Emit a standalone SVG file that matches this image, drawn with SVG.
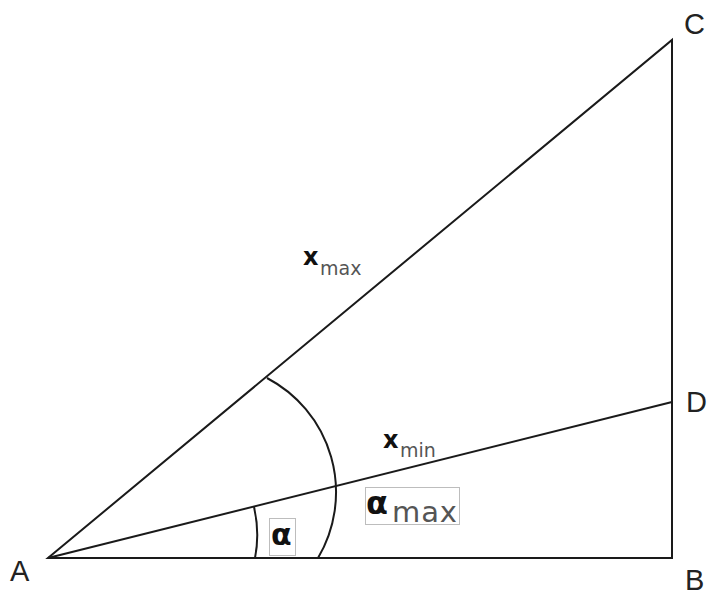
<svg xmlns="http://www.w3.org/2000/svg" width="708" height="595" viewBox="0 0 708 595">
<style>
.ln{fill:none;stroke:#1a1a1a;stroke-width:2;stroke-linejoin:miter}
.lbl{font-family:"Liberation Sans",Arial,sans-serif;font-size:29px;fill:#222}
.var{font-family:"DejaVu Sans",Verdana,sans-serif;font-weight:bold;fill:#111}
.sub{font-family:"DejaVu Sans",Verdana,sans-serif;fill:#555}
.box{fill:none;stroke:#bdbdbd;stroke-width:1}
</style>
<rect width="708" height="595" fill="#fff"/>
<g id="connectors">
<path class="ln" d="M48,558 L672,558 L672,40 Z"/>
<path class="ln" d="M48,558 L672,402"/>
<path class="ln" d="M267,378 A129,129 0 0 1 318,558"/>
<path class="ln" d="M254,507 Q260,533 255,558"/>
</g>
<g id="A"><text class="lbl" x="10" y="581">A</text></g>
<g id="B"><text class="lbl" x="685" y="590" font-size="28">B</text></g>
<g id="C"><text class="lbl" x="684" y="34">C</text></g>
<g id="D"><text class="lbl" x="686" y="412">D</text></g>
<g id="xmax"><text class="var" font-size="24" x="303" y="265">x</text><text class="sub" font-size="19" x="320" y="275">max</text></g>
<g id="xmin"><text class="var" font-size="24" x="383" y="448">x</text><text class="sub" font-size="19" x="400" y="457">min</text></g>
<g id="alphamax"><rect class="box" x="365.5" y="487.5" width="94" height="37"/><text class="var" font-size="32" font-weight="600" x="366" y="514">α</text><text class="sub" font-size="29" x="392" y="522" textLength="65" lengthAdjust="spacing">max</text></g>
<g id="alpha"><rect class="box" x="269.5" y="518.5" width="26" height="37"/><text class="var" font-size="30" x="271" y="545">α</text></g>
</svg>
